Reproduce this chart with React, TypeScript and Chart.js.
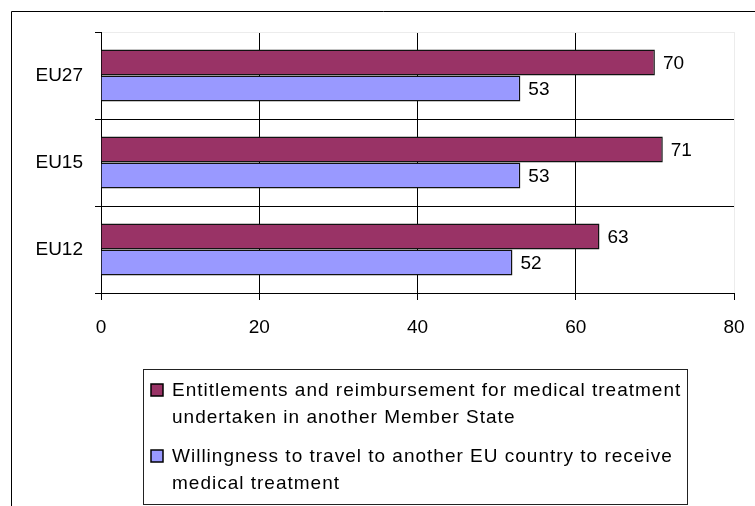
import React, { useEffect, useRef } from 'react';
import { Chart, registerables } from 'chart.js';

Chart.register(...registerables);

const categories = ['EU27', 'EU15', 'EU12'];
const entitlementsValues = [70, 71, 63];
const willingnessValues = [53, 53, 52];
const xMin = 0;
const xMax = 80;
const xStep = 20;
const entitlementsLines = ['Entitlements and reimbursement for medical treatment', 'undertaken in another Member State'];
const willingnessLines = ['Willingness to travel to another EU country to receive', 'medical treatment'];

const FONT = '"Liberation Sans", Arial, sans-serif';
const MAROON = '#993366';
const LAVENDER = '#9999FF';

const setSpacing = (ctx: any, v: string) => {
  try {
    ctx.letterSpacing = v;
  } catch (e) {}
};

const overlayPlugin = {
  id: 'overlay',
  afterDatasetsDraw(chart: any) {
    const ctx = chart.ctx;
    ctx.save();
    setSpacing(ctx, '0px');
    ctx.font = `19px ${FONT}`;
    ctx.fillStyle = '#000';
    ctx.textBaseline = 'middle';
    ctx.textAlign = 'left';
    chart.data.datasets.forEach((ds: any, di: number) => {
      const meta = chart.getDatasetMeta(di);
      meta.data.forEach((el: any, i: number) => {
        ctx.fillText(String(ds.data[i]), el.x + 8, el.y + 1);
      });
    });
    ctx.restore();
  },
  afterDraw(chart: any) {
    const ctx = chart.ctx;
    ctx.save();
    // outer frame (cropped at right / bottom)
    ctx.strokeStyle = '#000';
    ctx.lineWidth = 1;
    ctx.beginPath();
    ctx.moveTo(11.5, 506);
    ctx.lineTo(11.5, 11.5);
    ctx.lineTo(755, 11.5);
    ctx.stroke();

    // legend box
    ctx.strokeStyle = '#222';
    ctx.strokeRect(143.5, 369.5, 544, 135);

    const items = [
      { lines: entitlementsLines, color: chart.data.datasets[0].backgroundColor, top: 390 },
      { lines: willingnessLines, color: chart.data.datasets[1].backgroundColor, top: 456 },
    ];
    ctx.font = `19px ${FONT}`;
    setSpacing(ctx, '1px');
    ctx.textBaseline = 'middle';
    ctx.textAlign = 'left';
    items.forEach((it) => {
      ctx.fillStyle = it.color;
      ctx.fillRect(151, it.top - 6, 12, 12);
      ctx.strokeStyle = '#000';
      ctx.lineWidth = 1.5;
      ctx.strokeRect(151, it.top - 6, 12, 12);
      ctx.fillStyle = '#000';
      it.lines.forEach((line, li) => {
        ctx.fillText(line, 172, it.top + 1 + li * 27);
      });
    });
    setSpacing(ctx, '0px');
    ctx.restore();
    setSpacing(ctx, '0px');
  },
};

export default function App() {
  const canvasRef = useRef<HTMLCanvasElement | null>(null);

  useEffect(() => {
    if (!canvasRef.current) return;
    const chart = new Chart(canvasRef.current, {
      type: 'bar',
      data: {
        labels: categories,
        datasets: [
          {
            label: entitlementsLines.join(' '),
            data: entitlementsValues,
            backgroundColor: MAROON,
            borderColor: '#111',
            borderWidth: 1.5,
            categoryPercentage: 0.6,
            barPercentage: 1,
          },
          {
            label: willingnessLines.join(' '),
            data: willingnessValues,
            backgroundColor: LAVENDER,
            borderColor: '#111',
            borderWidth: 1.5,
            categoryPercentage: 0.6,
            barPercentage: 1,
          },
        ],
      },
      options: {
        indexAxis: 'y',
        responsive: false,
        animation: false,
        devicePixelRatio: 1,
        layout: { padding: { left: 0, top: 32, right: 21, bottom: 163 } },
        plugins: {
          legend: { display: false },
          tooltip: { enabled: false },
        },
        scales: {
          x: {
            min: xMin,
            max: xMax,
            ticks: {
              stepSize: xStep,
              color: '#000',
              font: { family: FONT, size: 19 },
              padding: 16,
            },
            grid: {
              color: (c: any) => (c.tick && c.tick.value === xMax ? '#ececec' : '#000'),
              tickColor: '#000',
              tickLength: 7,
              lineWidth: 1,
            },
            border: { display: true, color: '#000', width: 1 },
            afterFit: (scale: any) => {
              scale.height = 50;
              scale.paddingLeft = 0;
              scale.paddingRight = 0;
            },
          },
          y: {
            ticks: {
              color: '#000',
              font: { family: FONT, size: 19 },
              padding: 12,
            },
            grid: {
              offset: true,
              color: (c: any) => (c.index === 0 ? '#ececec' : '#000'),
              tickColor: '#000',
              tickLength: 6,
              lineWidth: 1,
            },
            border: { display: true, color: '#000', width: 1 },
            afterFit: (scale: any) => {
              scale.width = 101;
              scale.paddingTop = 0;
              scale.paddingBottom = 0;
            },
          },
        },
      },
      plugins: [overlayPlugin],
    });
    return () => chart.destroy();
  }, []);

  return (
    <div style={{ position: 'absolute', left: 0, top: 0, width: 755, height: 506, background: '#fff' }}>
      <canvas ref={canvasRef} width={755} height={506} style={{ width: 755, height: 506, display: 'block' }} />
    </div>
  );
}
